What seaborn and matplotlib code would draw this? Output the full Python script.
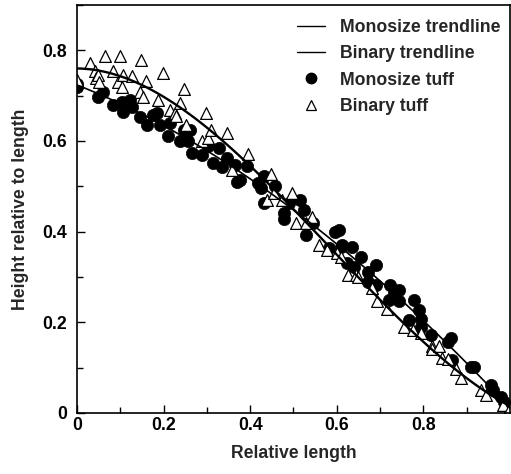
import numpy as np
import pandas as pd
import matplotlib
matplotlib.use("Agg")
import matplotlib.pyplot as plt
from matplotlib.lines import Line2D
from matplotlib.ticker import MultipleLocator
import seaborn as sns

# Monosize tuff points (relative length, relative height)
mono_x = [0.0, 0.0, 0.049, 0.06, 0.083, 0.103, 0.107, 0.123, 0.127, 0.146,
          0.161, 0.176, 0.184, 0.192, 0.211, 0.215, 0.238, 0.246, 0.257, 0.262,
          0.265, 0.289, 0.303, 0.315, 0.327, 0.335, 0.346, 0.366, 0.37, 0.377,
          0.393, 0.419, 0.424, 0.431, 0.431, 0.458, 0.479, 0.479, 0.489, 0.516,
          0.524, 0.528, 0.546, 0.581, 0.597, 0.604, 0.609, 0.613, 0.624, 0.636,
          0.64, 0.655, 0.671, 0.671, 0.69, 0.69, 0.72, 0.722, 0.732, 0.743,
          0.743, 0.766, 0.778, 0.789, 0.794, 0.795, 0.817, 0.856, 0.863, 0.867,
          0.91, 0.917, 0.956, 0.96, 0.979, 0.986, 0.998, 1.0]
mono_y = [0.72, 0.726, 0.698, 0.709, 0.68, 0.687, 0.665, 0.691, 0.676, 0.654,
          0.636, 0.658, 0.662, 0.636, 0.61, 0.64, 0.599, 0.625, 0.601, 0.625,
          0.574, 0.57, 0.588, 0.552, 0.585, 0.543, 0.563, 0.547, 0.51, 0.514,
          0.545, 0.508, 0.497, 0.522, 0.463, 0.5, 0.441, 0.428, 0.463, 0.47,
          0.448, 0.393, 0.419, 0.364, 0.4, 0.404, 0.367, 0.371, 0.331, 0.367,
          0.323, 0.345, 0.312, 0.29, 0.327, 0.283, 0.249, 0.283, 0.265, 0.272,
          0.246, 0.205, 0.249, 0.227, 0.19, 0.207, 0.172, 0.157, 0.166, 0.117,
          0.102, 0.102, 0.062, 0.051, 0.036, 0.025, 0.011, 0.003]

# Binary tuff points
bin_x = [0.0, 0.03, 0.042, 0.045, 0.049, 0.05, 0.065, 0.083, 0.095, 0.1,
         0.103, 0.106, 0.127, 0.146, 0.148, 0.152, 0.16, 0.188, 0.198, 0.215,
         0.227, 0.229, 0.238, 0.248, 0.252, 0.289, 0.299, 0.303, 0.309, 0.346,
         0.358, 0.396, 0.439, 0.447, 0.454, 0.474, 0.497, 0.505, 0.528, 0.543,
         0.558, 0.578, 0.601, 0.609, 0.627, 0.644, 0.65, 0.682, 0.694, 0.717,
         0.755, 0.775, 0.794, 0.821, 0.821, 0.836, 0.844, 0.856, 0.875, 0.887,
         0.933, 0.944, 0.983, 1.0]
bin_y = [0.735, 0.772, 0.754, 0.739, 0.746, 0.731, 0.788, 0.754, 0.731, 0.788,
         0.72, 0.746, 0.744, 0.709, 0.778, 0.698, 0.733, 0.691, 0.751, 0.669,
         0.662, 0.656, 0.684, 0.714, 0.636, 0.599, 0.662, 0.607, 0.625, 0.618,
         0.535, 0.572, 0.47, 0.528, 0.485, 0.47, 0.485, 0.419, 0.42, 0.433,
         0.371, 0.36, 0.353, 0.345, 0.305, 0.305, 0.301, 0.276, 0.246, 0.23,
         0.19, 0.182, 0.177, 0.148, 0.141, 0.148, 0.121, 0.119, 0.097, 0.077,
         0.051, 0.04, 0.018, 0.011]

mono = pd.DataFrame({"x": mono_x, "y": mono_y})
binary = pd.DataFrame({"x": bin_x, "y": bin_y})

sns.set_style("ticks")
plt.rcParams["font.family"] = ["Liberation Sans", "DejaVu Sans"]
plt.rcParams["font.weight"] = "bold"
plt.rcParams["font.size"] = 12.7

fig = plt.figure(figsize=(5.11, 4.74), dpi=100)
ax = fig.add_axes([0.1507, 0.1287, 0.8473, 0.8608])

sns.scatterplot(data=mono, x="x", y="y", ax=ax, marker="o", s=78,
                color="black", edgecolor="black", linewidth=0.5, zorder=2)
sns.scatterplot(data=binary, x="x", y="y", ax=ax, marker="^", s=72,
                facecolor="white", edgecolor="black", linewidth=0.9, zorder=2)

# cubic trendlines fitted to each data set
sns.regplot(data=mono, x="x", y="y", ax=ax, order=3, ci=None, scatter=False,
            line_kws={"color": "black", "lw": 1.2, "zorder": 3})
sns.regplot(data=binary, x="x", y="y", ax=ax, order=3, ci=None, scatter=False,
            line_kws={"color": "black", "lw": 1.7, "zorder": 3})

ax.set_xlim(0, 1)
ax.set_ylim(0, 0.9)
ax.xaxis.set_minor_locator(MultipleLocator(0.1))
ax.yaxis.set_minor_locator(MultipleLocator(0.1))
ax.set_xticks([0, 0.2, 0.4, 0.6, 0.8])
ax.set_yticks([0, 0.2, 0.4, 0.6, 0.8])
ax.set_xticklabels(["0", "0.2", "0.4", "0.6", "0.8"])
ax.set_yticklabels(["0", "0.2", "0.4", "0.6", "0.8"])
ax.tick_params(which="major", direction="in", length=6, width=1, colors="black")
ax.tick_params(which="minor", direction="in", length=4, width=1, colors="black")
ax.tick_params(axis="x", pad=3)
ax.tick_params(axis="y", pad=7)
for sp in ax.spines.values():
    sp.set_linewidth(1.2)
    sp.set_color("black")

ax.set_xlabel("Relative length", fontweight="bold", labelpad=8)
ax.set_ylabel("Height relative to length", fontweight="bold", labelpad=10)

handles = [
    Line2D([], [], color="black", lw=1),
    Line2D([], [], color="black", lw=1),
    Line2D([], [], color="black", marker="o", ls="none", markersize=7.5),
    Line2D([], [], color="black", marker="^", ls="none", markersize=7.5,
           markerfacecolor="white", markeredgewidth=0.9),
]
labels = ["Monosize trendline", "Binary trendline", "Monosize tuff", "Binary tuff"]
ax.legend(handles, labels, loc="upper left", bbox_to_anchor=(0.508, 0.965),
          frameon=False, borderpad=0, borderaxespad=0, handlelength=1.6,
          handletextpad=0.85, labelspacing=0.52,
          prop={"weight": "bold", "size": 12.7})

fig.savefig("out.png", dpi=100)
